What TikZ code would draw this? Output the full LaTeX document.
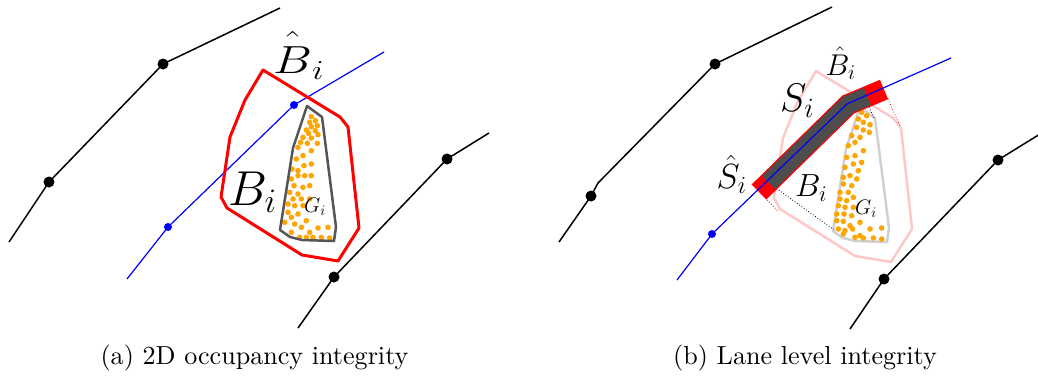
\RequirePackage{fix-cm}
\documentclass[tikz,border=0pt]{standalone}
\usepackage{amsmath}
\usepackage{graphicx}
\usepackage{fontspec}
\newfontfamily\capfont{lmroman10-regular.otf}
\definecolor{dotorange}{RGB}{255,165,0}
\definecolor{softpink}{RGB}{255,200,200}
\definecolor{lightgr}{RGB}{208,208,208}
\definecolor{darkgr}{RGB}{85,85,85}
\definecolor{bandgr}{RGB}{77,77,77}
\begin{document}
\begin{tikzpicture}[x=1pt,y=-1pt,
  road/.style={black,line width=1.5pt},
  lane/.style={blue,line width=1.2pt},
  hull/.style={red,line width=3pt,line join=round},
  softhull/.style={softpink,line width=2.5pt,line join=round},
  gpoly/.style={darkgr,line width=2.5pt,line join=round},
  lgpoly/.style={lightgr,line width=2.5pt,line join=round},
  lab/.style={inner sep=0pt,anchor=base west},
  captext/.style={inner sep=0pt,anchor=base},
  dotline/.style={dotted,line width=0.8pt}]
\useasboundingbox (0,0) rectangle (1038,376);

% ================= left panel =================
\coordinate (la0) at (9,242);   \coordinate (la1) at (49,182);
\coordinate (la2) at (163,64);  \coordinate (la3) at (280,8);
\coordinate (lb0) at (298,328); \coordinate (lb1) at (334,277);
\coordinate (lb2) at (447,159); \coordinate (lb3) at (489,133);
\coordinate (lc0) at (127,279); \coordinate (lc1) at (168,227);
\coordinate (lc2) at (294,105); \coordinate (lc3) at (384,52);
\draw[road] (la0) -- (la1) -- (la2) -- (la3);
\draw[road] (lb0) -- (lb1) -- (lb2) -- (lb3);
\foreach \p in {la1,la2,lb1,lb2} \fill (\p) circle[radius=5.5pt];
\draw[lane] (lc0) -- (lc1) -- (lc2) -- (lc3);
\foreach \p in {lc1,lc2} \fill[blue] (\p) circle[radius=4pt];

\draw[hull] (263,70) -- (340,117) -- (348,127) -- (359,228) -- (338,261) -- (302,255) -- (227,208) -- (221,197) -- (230,137) -- (245,100) -- cycle;

\begin{scope}[shift={(278,104)},x=0.33333pt,y=-0.33333pt]
\foreach \a/\b in {100/38,112/50,95/55,118/65,100/68,85/78,112/80,92/88,120/92,75/100,100/102,68/115,88/118,118/118,60/130,100/140,75/155,55/165,100/180,78/185,60/200,42/195,80/215,60/215,100/215,40/225,48/245,75/250,95/245,35/265,60/270,45/285,70/285,95/285,30/300,50/305,75/305,30/325,60/330,40/340,85/350,20/355,50/360,70/370,120/372,40/385,95/385,150/370,65/400,85/400,105/400,130/400,155/402}
  \fill[dotorange] (\a,\b) circle[radius=2.8pt];
\end{scope}
\draw[gpoly] (307,106) -- (322,117) -- (336,227) -- (334,241) -- (302,240) -- (290,237) -- (280,230) -- (293,148) -- cycle;

\node[lab] (bhatl) at (273,73.3) {\fontsize{49}{50}\selectfont\scalebox{1}[0.8]{$\hat{\rule{0pt}{0.8em}B}_i$}};
\node[lab] (bl) at (228,205) {\fontsize{49}{50}\selectfont$B_i$};
\node[lab] (gl) at (304,212.3) {\fontsize{21}{22}\selectfont$G_i$};
\node[captext] (capa) at (254.5,364) {\capfont\fontsize{26.1}{30}\selectfont (a) 2D occupancy integrity};

% ================= right panel =================
\coordinate (ra0) at (559,242); \coordinate (ra1) at (591,196);
\coordinate (rak) at (598,183); \coordinate (ra2) at (715,64);
\coordinate (ra3) at (832,7);
\coordinate (rb0) at (850,329); \coordinate (rb1) at (884,279);
\coordinate (rb2) at (998,160); \coordinate (rb3) at (1040,134);
\coordinate (rc0) at (677,280); \coordinate (rc1) at (712,234);
\coordinate (rc2) at (847,104); \coordinate (rc3) at (951,58);
\draw[road] (ra0) -- (ra1) -- (rak) -- (ra2) -- (ra3);
\draw[road] (rb0) -- (rb1) -- (rb2) -- (rb3);
\foreach \p in {ra1,ra2,rb1,rb2} \fill (\p) circle[radius=5.5pt];

\begin{scope}[shift={(553,1)}]
\draw[softhull] (263,70) -- (340,117) -- (348,127) -- (359,228) -- (338,261) -- (302,255) -- (227,208) -- (221,197) -- (230,137) -- (245,100) -- cycle;
\draw[lgpoly] (307,106) -- (322,117) -- (336,227) -- (334,241) -- (302,240) -- (290,237) -- (280,230) -- (293,148) -- cycle;
\end{scope}

\begin{scope}[shift={(830,104)},x=0.33333pt,y=-0.33333pt]
\foreach \a/\b in {95/25,110/35,85/45,100/55,120/62,80/70,100/78,118/85,65/95,90/100,75/115,55/125,100/140,75/155,50/160,95/175,70/180,45/190,85/200,60/215,40/220,80/225,40/240,65/245,30/265,55/265,70/280,30/285,50/290,25/305,45/310,70/310,20/330,42/330,65/335,20/350,40/352,90/355,60/365,25/375,45/380,68/375,120/375,155/372,90/395,75/400,100/402,130/402,155/405,40/390}
  \fill[dotorange] (\a,\b) circle[radius=2.8pt];
\end{scope}

\draw[dotline,black] (776.5,188.5) -- (833.5,229.5);
\draw[dotline,black] (869,107) -- (874,118);
\draw[dotline,red] (888,99) -- (900,126);
\draw[dotline,red] (767,200) -- (778,211);

\coordinate (s0) at (759,192);
\coordinate (s1) at (848.3,104.5);
\coordinate (s2) at (884,89.5);
\coordinate (t0) at (768.6,182.5);
\coordinate (t2) at (867.4,96.5);
\draw[red,line width=21pt,line join=miter] (s0) -- (s1) -- (s2);
\draw[bandgr,line width=18.5pt,line join=miter] (t0) -- (s1) -- (t2);

\draw[lane] (rc0) -- (rc1) -- (rc2) -- (rc3);
\fill[blue] (rc1) circle[radius=4pt];

\node[lab] (bhatr) at (825.5,75) {\fontsize{30}{32}\selectfont$\hat{B}_i$};
\node[lab] (sr) at (780,111.7) {\fontsize{40}{42}\selectfont$S_i$};
\node[lab] (br) at (795,196.7) {\fontsize{32}{34}\selectfont$B_i$};
\node[lab] (shatr) at (716.5,188.3) {\fontsize{35}{36}\selectfont$\hat{S}_i$};
\node[lab] (gr) at (855,214) {\fontsize{21}{22}\selectfont$G_i$};
\node[captext] (capb) at (805,364) {\capfont\fontsize{26.1}{30}\selectfont (b) Lane level integrity};
\end{tikzpicture}
\end{document}
